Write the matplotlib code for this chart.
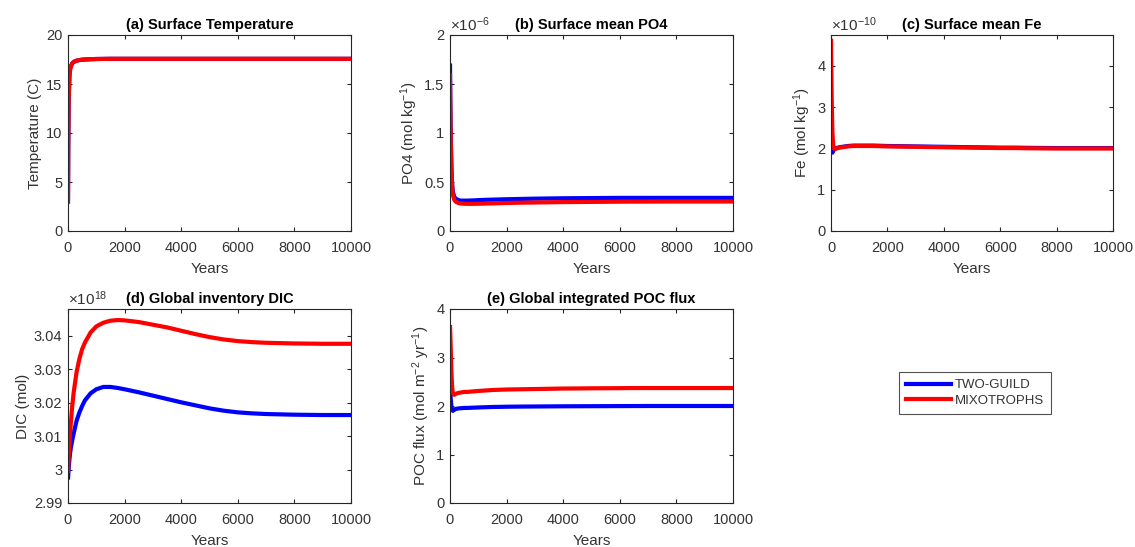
import matplotlib
matplotlib.use("Agg")
import matplotlib.pyplot as plt
from matplotlib.lines import Line2D

plt.rcParams['font.family'] = ['Liberation Sans', 'DejaVu Sans']
plt.rcParams['mathtext.fontset'] = 'custom'
plt.rcParams['mathtext.rm'] = 'Liberation Sans'
plt.rcParams['mathtext.it'] = 'Liberation Sans:italic'
plt.rcParams['mathtext.bf'] = 'Liberation Sans:bold'
plt.rcParams['font.size'] = 10

# ---- model output (years) ----
years = [0, 10, 25, 50, 75, 100, 150, 200, 300, 400, 500, 600, 800, 1000, 1250,
         1500, 1750, 2000, 2500, 3000, 3500, 4000, 4500, 5000, 5500, 6000, 6500,
         7000, 8000, 9000, 10000]

series_names = ['TWO-GUILD', 'MIXOTROPHS']
series_colors = ['#0000ff', '#ff0000']

# Surface temperature (C)
temp_two = [2.8, 9.0, 13.5, 15.8, 16.5, 16.8, 17.1, 17.25, 17.38, 17.44, 17.48, 17.5, 17.53,
            17.55, 17.56, 17.57, 17.57, 17.57, 17.57, 17.57, 17.57, 17.57, 17.57, 17.57,
            17.57, 17.57, 17.57, 17.57, 17.57, 17.57, 17.57]
temp_mix = [2.8, 9.0, 13.5, 15.8, 16.5, 16.8, 17.1, 17.25, 17.38, 17.44, 17.48, 17.5, 17.53,
            17.55, 17.56, 17.57, 17.57, 17.57, 17.57, 17.57, 17.57, 17.57, 17.57, 17.57,
            17.57, 17.57, 17.57, 17.57, 17.57, 17.57, 17.57]

# Surface mean PO4 (x1e-6 mol/kg)
po4_two = [1.71, 1.35, 1.00, 0.65, 0.48, 0.40, 0.35, 0.33, 0.315, 0.31, 0.31, 0.31, 0.312,
           0.315, 0.318, 0.32, 0.322, 0.324, 0.327, 0.33, 0.332, 0.334, 0.335, 0.336,
           0.337, 0.338, 0.338, 0.338, 0.338, 0.338, 0.338]
po4_mix = [1.61, 1.30, 0.95, 0.62, 0.45, 0.37, 0.32, 0.30, 0.285, 0.28, 0.278, 0.277, 0.277,
           0.278, 0.28, 0.282, 0.284, 0.286, 0.289, 0.291, 0.293, 0.295, 0.296, 0.297,
           0.298, 0.299, 0.30, 0.30, 0.301, 0.301, 0.301]

# Surface mean Fe (x1e-10 mol/kg)
fe_two = [1.95, 1.92, 1.90, 1.90, 1.93, 1.97, 2.0, 2.01, 2.03, 2.04, 2.05, 2.06, 2.07, 2.07,
          2.07, 2.07, 2.065, 2.06, 2.055, 2.05, 2.045, 2.04, 2.035, 2.03, 2.025, 2.02,
          2.02, 2.015, 2.01, 2.01, 2.01]
fe_mix = [4.66, 4.0, 3.2, 2.4, 2.1, 2.0, 1.99, 2.0, 2.02, 2.03, 2.04, 2.05, 2.06, 2.06,
          2.06, 2.06, 2.055, 2.05, 2.045, 2.04, 2.035, 2.03, 2.025, 2.02, 2.015, 2.01,
          2.01, 2.005, 2.0, 2.0, 2.0]

# Global inventory DIC (x1e18 mol)
dic_two = [2.997, 2.9985, 3.0005, 3.003, 3.005, 3.0065, 3.0088, 3.0108, 3.0145, 3.017,
           3.019, 3.0207, 3.0228, 3.024, 3.0247, 3.0247, 3.0244, 3.024, 3.0231, 3.0221,
           3.0211, 3.0201, 3.0192, 3.0183, 3.0176, 3.0171, 3.0168, 3.0166, 3.0164,
           3.0163, 3.0163]
dic_mix = [2.999, 3.001, 3.004, 3.008, 3.011, 3.014, 3.019, 3.023, 3.029, 3.033, 3.036,
           3.038, 3.041, 3.0428, 3.0439, 3.0445, 3.0447, 3.0446, 3.0441, 3.0433, 3.0425,
           3.0415, 3.0405, 3.0396, 3.0389, 3.0384, 3.0381, 3.0379, 3.0377, 3.0376, 3.0376]

# Global integrated POC flux (mol m-2 yr-1)
poc_two = [2.45, 2.35, 2.15, 1.98, 1.92, 1.90, 1.92, 1.94, 1.95, 1.955, 1.96, 1.96, 1.965,
           1.97, 1.975, 1.98, 1.982, 1.985, 1.988, 1.99, 1.992, 1.994, 1.995, 1.996,
           1.997, 1.998, 1.999, 2.0, 2.0, 2.0, 2.0]
poc_mix = [3.67, 3.50, 3.20, 2.70, 2.40, 2.26, 2.23, 2.25, 2.27, 2.28, 2.29, 2.29, 2.30,
           2.31, 2.32, 2.33, 2.335, 2.34, 2.345, 2.35, 2.355, 2.36, 2.362, 2.365, 2.366,
           2.368, 2.37, 2.37, 2.37, 2.37, 2.37]

x_ticks = [0, 2000, 4000, 6000, 8000, 10000]

panels = [
    dict(title='(a) Surface Temperature', ylabel='Temperature (C)',
         data=(temp_two, temp_mix), ylim=(0, 20), yticks=[0, 5, 10, 15, 20],
         yticklabels=['0', '5', '10', '15', '20'], scale=None),
    dict(title='(b) Surface mean PO4', ylabel=r'PO4 (mol kg$^{-1}$)',
         data=(po4_two, po4_mix), ylim=(0, 2), yticks=[0, 0.5, 1, 1.5, 2],
         yticklabels=['0', '0.5', '1', '1.5', '2'], scale=r'$\times10^{-6}$'),
    dict(title='(c) Surface mean Fe', ylabel=r'Fe (mol kg$^{-1}$)',
         data=(fe_two, fe_mix), ylim=(0, 4.75), yticks=[0, 1, 2, 3, 4],
         yticklabels=['0', '1', '2', '3', '4'], scale=r'$\times10^{-10}$'),
    dict(title='(d) Global inventory DIC', ylabel='DIC (mol)',
         data=(dic_two, dic_mix), ylim=(2.99, 3.048),
         yticks=[2.99, 3.0, 3.01, 3.02, 3.03, 3.04],
         yticklabels=['2.99', '3', '3.01', '3.02', '3.03', '3.04'], scale=r'$\times10^{18}$'),
    dict(title='(e) Global integrated POC flux', ylabel=r'POC flux (mol m$^{-2}$ yr$^{-1}$)',
         data=(poc_two, poc_mix), ylim=(0, 4), yticks=[0, 1, 2, 3, 4],
         yticklabels=['0', '1', '2', '3', '4'], scale=None),
]

W, H = 1135, 547
fig = plt.figure(figsize=(W / 100, H / 100), dpi=100)

# axes boxes in pixels: left, top, right, bottom
boxes = [(68, 35, 351, 231), (450, 35, 733, 231), (831, 35, 1113, 231),
         (68, 309, 351, 503), (450, 309, 733, 503)]

axis_col = '#262626'
text_col = '#333333'
for p, (l, t, r, b) in zip(panels, boxes):
    ax = fig.add_axes([l / W, (H - b) / H, (r - l) / W, (b - t) / H])
    for vals, col in zip(p['data'], series_colors):
        ax.plot(years, vals, color=col, lw=3.0, solid_capstyle='butt')
    ax.set_xlim(0, 10000)
    ax.set_ylim(*p['ylim'])
    ax.set_xticks(x_ticks)
    ax.set_xticklabels([str(v) for v in x_ticks])
    ax.set_yticks(p['yticks'])
    ax.set_yticklabels(p['yticklabels'])
    ax.tick_params(direction='in', length=3, width=0.8, top=True, right=True,
                   colors=axis_col, labelcolor=text_col, labelsize=10.5)
    ax.tick_params(axis='x', pad=7)
    ax.tick_params(axis='y', pad=4)
    for s in ax.spines.values():
        s.set_color(axis_col)
        s.set_linewidth(0.8)
    ax.set_title(p['title'], fontweight='bold', fontsize=10.5, pad=4, color='black')
    ax.set_xlabel('Years', fontsize=11, color=text_col, labelpad=5)
    ax.set_ylabel(p['ylabel'], fontsize=11, color=text_col, labelpad=3)
    if p['scale']:
        ax.text(0.0, 1.006, p['scale'], transform=ax.transAxes, ha='left', va='bottom',
                fontsize=11, color=text_col)

handles = [Line2D([], [], color=c, lw=3.0) for c in series_colors]
leg = fig.legend(handles, series_names, loc='center',
                 bbox_to_anchor=(975 / W, (H - 393) / H), frameon=True, fancybox=False,
                 fontsize=9.5, handlelength=3.4, handletextpad=0.3, borderpad=0.55,
                 labelspacing=0.25, edgecolor=axis_col)
leg.get_frame().set_linewidth(0.8)
for txt in leg.get_texts():
    txt.set_color(text_col)

fig.savefig('out.png', dpi=100)
